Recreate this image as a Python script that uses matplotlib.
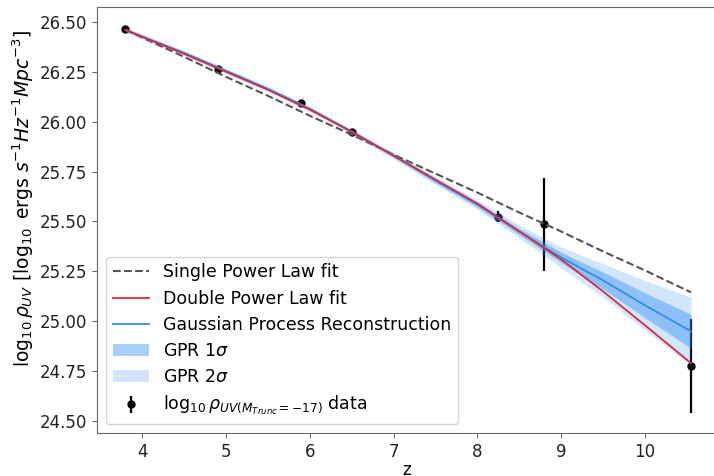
import matplotlib
matplotlib.use("Agg")
import matplotlib.pyplot as plt
import numpy as np

# redshift grid the fitted curves were read on
z_grid = [3.8, 4.5, 5.0, 5.5, 6.0, 6.5, 7.0, 7.5, 8.0, 8.5, 9.0, 9.5, 10.0, 10.55]

single_pl = [26.46, 26.325, 26.225, 26.13, 26.03, 25.935, 25.835, 25.74, 25.645, 25.545,
             25.45, 25.35, 25.255, 25.145]
double_pl = [26.46, 26.34, 26.25, 26.16, 26.06, 25.95, 25.83, 25.71, 25.59, 25.45,
             25.31, 25.15, 24.98, 24.79]
gpr_mean = [26.46, 26.345, 26.255, 26.165, 26.065, 25.95, 25.83, 25.705, 25.585, 25.45,
            25.32, 25.205, 25.08, 24.95]
gpr_sigma = [0.006, 0.006, 0.006, 0.006, 0.006, 0.007, 0.008, 0.010, 0.012, 0.016,
             0.026, 0.042, 0.062, 0.085]

z_data = [3.8, 4.9, 5.9, 6.5, 8.25, 8.8, 10.55]
rho_data = [26.465, 26.265, 26.095, 25.95, 25.525, 25.485, 24.775]
rho_err = [0.01, 0.01, 0.01, 0.01, 0.03, 0.235, 0.235]

plt.rcParams.update({
    "font.family": "DejaVu Sans",
    "font.size": 12,
    "axes.edgecolor": "#666666",
    "xtick.color": "#666666",
    "ytick.color": "#666666",
    "xtick.labelcolor": "#222222",
    "ytick.labelcolor": "#222222",
})

fig = plt.figure(figsize=(7.14, 4.76), dpi=100)
ax = fig.add_axes([97 / 714, 43 / 476, 620 / 714, 426 / 476])

mean = np.array(gpr_mean)
sig = np.array(gpr_sigma)

ax.plot(z_grid, single_pl, "--", color="#555555", lw=1.5, zorder=2,
        label="Single Power Law fit")
ax.plot(z_grid, double_pl, "-", color="#e0283c", lw=1.3, zorder=4,
        label="Double Power Law fit")
ax.plot(z_grid, gpr_mean, "-", color="#3a8be0", lw=1.3, zorder=3,
        label="Gaussian Process Reconstruction")
ax.fill_between(z_grid, mean - sig, mean + sig, color="#2e8ef0", alpha=0.42,
                lw=0, zorder=3, label=r"GPR 1$\sigma$")
ax.fill_between(z_grid, mean - 2 * sig, mean + 2 * sig, color="#2e8ef0", alpha=0.22,
                lw=0, zorder=3, label=r"GPR 2$\sigma$")
ax.errorbar(z_data, rho_data, yerr=rho_err, fmt="o", color="black", ms=5,
            elinewidth=1.6, capsize=0, zorder=1,
            label=r"$\log_{10}\rho_{UV(M_{Trunc}=-17)}$ data")

ax.set_xlim(3.46, 10.86)
ax.set_ylim(24.44, 26.575)
ax.set_yticks([24.50, 24.75, 25.00, 25.25, 25.50, 25.75, 26.00, 26.25, 26.50])
ax.yaxis.set_major_formatter(matplotlib.ticker.FormatStrFormatter("%.2f"))
ax.set_xlabel("z", labelpad=0)
ax.set_ylabel(r"$\log_{10}\rho_{UV}$ [$\log_{10}$ ergs $s^{-1}Hz^{-1}Mpc^{-3}$]",
              fontsize=13.5)
ax.yaxis.set_label_coords(-0.098, 0.55)

ax.legend(loc="lower left", fontsize=12.5, labelspacing=0.47, handlelength=2.1,
          framealpha=0.8)

fig.savefig("out.png", dpi=100)
